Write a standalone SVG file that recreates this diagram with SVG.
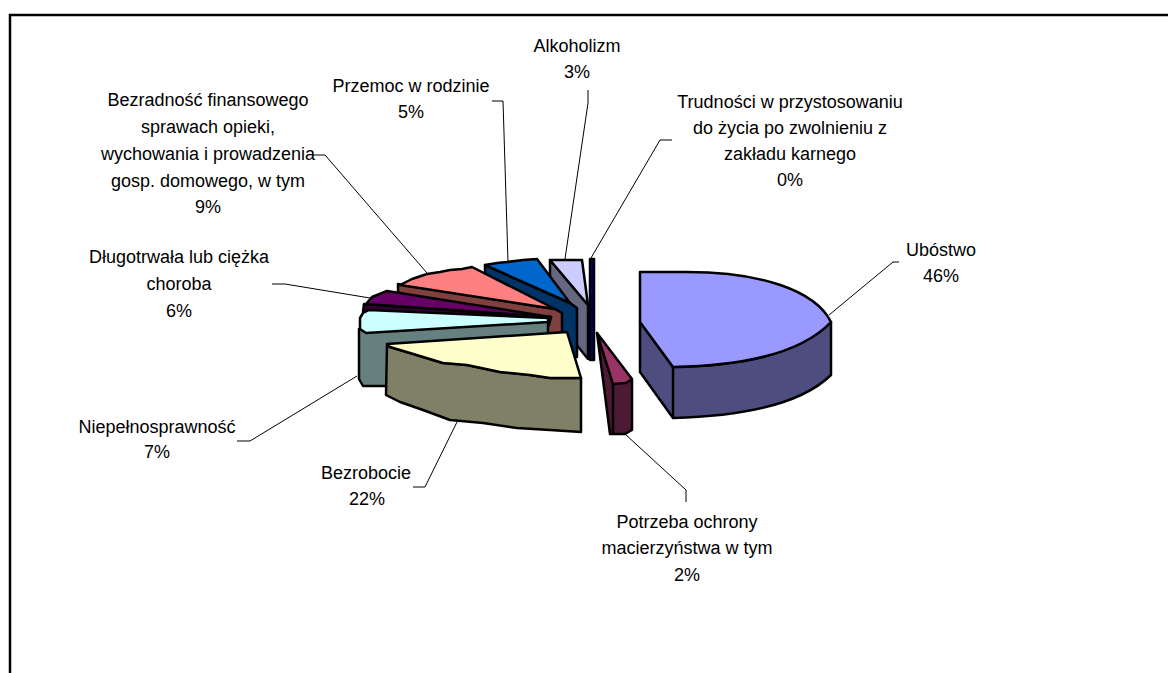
<svg xmlns="http://www.w3.org/2000/svg" width="1168" height="673" viewBox="0 0 1168 673">
<style>
.lbl{font-family:"Liberation Sans",Arial,sans-serif;font-size:18px;fill:#000;text-anchor:middle}
.ol{stroke:#000;stroke-width:2.5;stroke-linejoin:round}
.ld{fill:none;stroke:#000;stroke-width:1}
</style>
<rect x="0" y="0" width="1168" height="673" fill="#fff"/>
<rect x="10" y="15" width="1175" height="680" fill="none" stroke="#000" stroke-width="2.5"/>

<g id="alkoholizm">
<polygon class="ol" fill="#666680" points="550,260 588,305 588,359 550,312"/>
<polygon class="ol" fill="#CCCCFF" points="550,260 582,260 588,305"/>
</g>
<g id="trudnosci">
<polygon class="ol" fill="#000080" points="590,259 594,259 594,360 590,360" stroke-width="2"/>
</g>
<g id="przemoc">
<polygon class="ol" fill="#003366" points="485,265 570,303 577,308 577,357 565,357 485,315"/>
<polygon class="ol" fill="#0066CC" points="485,265 497,263 507,262 515,261 523,260 537,259 570,303"/>
</g>
<g id="bezradnosc">
<polygon class="ol" fill="#804040" points="398,284 398,293 552,334 562,334 562,313 555,309"/>
<polygon class="ol" fill="#FF8080" points="400,285 412,279 427,274 440,272 450,270 462,269 472,267 555,309"/>
</g>
<g id="dlugotrwala">
<polygon class="ol" fill="#330033" points="364,304 363,312 549,325 551,317"/>
<polygon class="ol" fill="#660066" points="366,304 372,297 387,291 551,317"/>
</g>
<g id="niepelnosprawnosc">
<polygon class="ol" fill="#668080" points="359,329 548,321 548,382 386,386 363,386 359,379"/>
<polygon class="ol" fill="#CCFFFF" points="360,318 363,313 369,310 548,318 548,322 366,333 360,329"/>
</g>
<g id="bezrobocie">
<polygon class="ol" fill="#808066" points="387,345 390,347 410,353 433,360 443,363 467,365 500,372 530,375 550,378 581,378 581,432 550,430 517,428 483,423 450,420 423,410 400,402 386,395"/>
<polygon class="ol" fill="#FFFFCC" points="387,344 567,332 581,378 550,378 530,375 500,372 467,365 443,363 433,360 410,353 390,347"/>
</g>
<g id="potrzeba">
<polygon class="ol" fill="#4D1A33" points="597,333 613,383 632,380 632,430 625,434 610,434"/>
<polygon class="ol" fill="#993366" points="597,333 632,379 626,383 613,384"/>
<line class="ol" x1="613" y1="384" x2="613" y2="434"/>
</g>
<g id="ubostwo">
<path class="ol" fill="#4D4D80" d="M640,322 L673,367 Q790,365 831,322 L831,375 Q790,415 673,418 L640,372 Z"/>
<path class="ol" fill="#9999FF" d="M640,272 L687,272 C760,272 815,290 831,322 Q790,365 673,367 L640,322 Z"/>
<line class="ol" x1="673" y1="367" x2="673" y2="418"/>
</g>

<g id="connectors">
<polyline class="ld" points="588,90 588,103 565,259"/>
<polyline class="ld" points="492,101 503,101 508,262"/>
<polyline class="ld" points="672,140 660,140 591,258"/>
<polyline class="ld" points="899,262 893,262 829,315"/>
<polyline class="ld" points="625,434 686,490 686,502"/>
<polyline class="ld" points="413,487 425,487 457,422"/>
<polyline class="ld" points="237,441 250,441 357,376"/>
<polyline class="ld" points="272,284 285,284 370,298"/>
<polyline class="ld" points="313,155 325,155 427,273"/>
</g>

<g id="labels">
<text class="lbl" x="577" y="52">Alkoholizm</text>
<text class="lbl" x="577" y="78">3%</text>
<text class="lbl" x="411" y="92">Przemoc w rodzinie</text>
<text class="lbl" x="411" y="118">5%</text>
<text class="lbl" x="790" y="108">Trudności w przystosowaniu</text>
<text class="lbl" x="790" y="134">do życia po zwolnieniu z</text>
<text class="lbl" x="790" y="160">zakładu karnego</text>
<text class="lbl" x="790" y="186">0%</text>
<text class="lbl" x="941" y="256">Ubóstwo</text>
<text class="lbl" x="941" y="282">46%</text>
<text class="lbl" x="687" y="528">Potrzeba ochrony</text>
<text class="lbl" x="687" y="554">macierzyństwa w tym</text>
<text class="lbl" x="687" y="581">2%</text>
<text class="lbl" x="366" y="479">Bezrobocie</text>
<text class="lbl" x="367" y="505">22%</text>
<text class="lbl" x="157" y="433">Niepełnosprawność</text>
<text class="lbl" x="157" y="458">7%</text>
<text class="lbl" x="179" y="263">Długotrwała lub ciężka</text>
<text class="lbl" x="179" y="290">choroba</text>
<text class="lbl" x="179" y="317">6%</text>
<text class="lbl" x="208" y="106">Bezradność finansowego</text>
<text class="lbl" x="208" y="133">sprawach opieki,</text>
<text class="lbl" x="208" y="160">wychowania i prowadzenia</text>
<text class="lbl" x="208" y="187">gosp. domowego, w tym</text>
<text class="lbl" x="208" y="213">9%</text>
</g>
</svg>
